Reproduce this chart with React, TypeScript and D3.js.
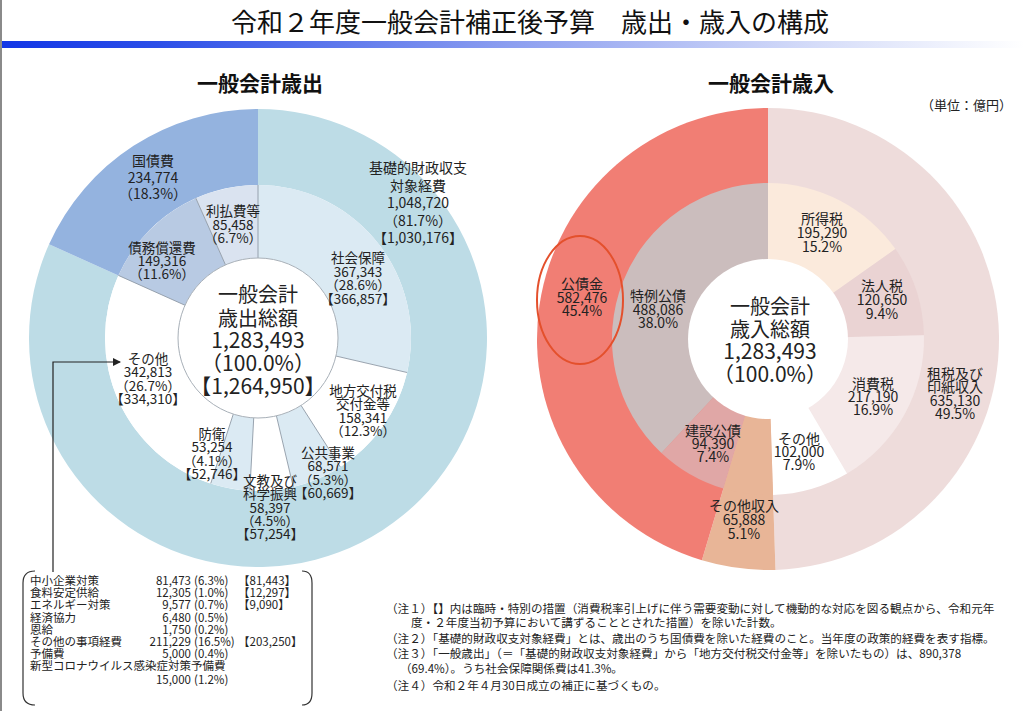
import React from "react";
import * as d3 from "d3";

// ---------- data ----------
const TOTAL = 1283493;

const expOuterNames = ["基礎的財政収支対象経費", "国債費"];
const expOuterValues = [1048720, 234774];
const expOuterPct = [81.7, 18.3];
const expOuterTemp = ["1,030,176", ""];

const expInnerNames = ["社会保障", "地方交付税交付金等", "公共事業", "文教及び科学振興", "防衛", "その他", "債務償還費", "利払費等"];
const expInnerValues = [367343, 158341, 68571, 58397, 53254, 342813, 149316, 85458];
const expInnerPct = [28.6, 12.3, 5.3, 4.5, 4.1, 26.7, 11.6, 6.7];
const expInnerTemp = ["366,857", "", "60,669", "57,254", "52,746", "334,310", "", ""];

const revOuterNames = ["租税及び印紙収入", "その他収入", "公債金"];
const revOuterValues = [635130, 65888, 582476];
const revOuterPct = [49.5, 5.1, 45.4];

const revInnerNames = ["所得税", "法人税", "消費税", "その他", "その他収入", "建設公債", "特例公債"];
const revInnerValues = [195290, 120650, 217190, 102000, 65888, 94390, 488086];
const revInnerPct = [15.2, 9.4, 16.9, 7.9, 5.1, 7.4, 38.0];

const otherNames = ["中小企業対策", "食料安定供給", "エネルギー対策", "経済協力", "恩給", "その他の事項経費", "予備費", "新型コロナウイルス感染症対策予備費"];
const otherValues = [81473, 12305, 9577, 6480, 1750, 211229, 5000, 15000];
const otherPct = [6.3, 1.0, 0.7, 0.5, 0.2, 16.5, 0.4, 1.2];
const otherTemp = ["81,443", "12,297", "9,090", "", "", "203,250", "", ""];

const notes = [
  "（注１）【】内は臨時・特別の措置（消費税率引上げに伴う需要変動に対して機動的な対応を図る観点から、令和元年",
  "度・２年度当初予算において講ずることとされた措置）を除いた計数。",
  "（注２）「基礎的財政収支対象経費」とは、歳出のうち国債費を除いた経費のこと。当年度の政策的経費を表す指標。",
  "（注３）「一般歳出」（＝「基礎的財政収支対象経費」から「地方交付税交付金等」を除いたもの）は、890,378",
  "（69.4%）。うち社会保障関係費は41.3%。",
  "（注４）令和２年４月30日成立の補正に基づくもの。",
];

// ---------- styles / layout ----------
const FONT = "'Noto Sans CJK JP', 'Noto Sans', sans-serif";
const fmt = d3.format(",");

const expOuterColors = ["#bddce6", "#94b3df"];
const expInnerColors = ["#dbeaf3", "#ffffff", "#dbeaf3", "#ffffff", "#dbeaf3", "#ffffff", "#b8cae3", "#dae3f0"];
const revOuterColors = ["#eedcdb", "#e8b597", "#f17e74"];
const revInnerColors = ["#fbeadc", "#ead3d3", "#f5e9e9", "#ffffff", "#e8b597", "#e0a7a6", "#cbbdbd"];

const L = { cx: 258, cy: 338, r0: 80, r1: 153, r2: 229 };
const R = { cx: 768, cy: 339, r0: 80, r1: 156, r2: 231 };

// label layout: [x, firstLineY, lineGap, fontSize]
const expOuterPos = [[418, 167, 17.5, 14], [153, 160, 16.5, 14]];
const expInnerPos = [
  [358, 257, 13.7, 13.5],
  [363, 390, 13.4, 13.5],
  [328, 452, 13.4, 13.5],
  [270, 480, 13.3, 13.5],
  [212, 433, 13.4, 13.5],
  [148, 358, 13.4, 13.5],
  [162, 247, 13, 13.5],
  [233, 210, 13.5, 13.5],
];
const expLabelSplit = [["社会保障"], ["地方交付税", "交付金等"], ["公共事業"], ["文教及び", "科学振興"], ["防衛"], ["その他"], ["債務償還費"], ["利払費等"]];
const expOuterSplit = [["基礎的財政収支", "対象経費"], ["国債費"]];

const revOuterPos = [[955, 373, 13.4, 14], null, [582, 283, 13.5, 14]];
const revOuterSplit = [["租税及び", "印紙収入"], [], ["公債金"]];
const revInnerPos = [
  [822, 218, 14, 14],
  [882, 285, 14, 14],
  [873, 383, 13, 14],
  [799, 438, 13, 14],
  [744, 505, 14, 14],
  [713, 430, 13, 14],
  [658, 295, 13.5, 14],
];

function Lines({ x, y, gap, size, lines, weight = 400 }: any) {
  return (
    <text
      x={x}
      y={y}
      fontSize={size}
      fontFamily={FONT}
      fontWeight={weight}
      textAnchor="middle"
      fill="#222"
    >
      {lines.map((l: string, i: number) => (
        <tspan key={i} x={x} y={y + i * gap} dominantBaseline="central">
          {l}
        </tspan>
      ))}
    </text>
  );
}

export default function App() {
  const pie = d3.pie<number>().sort(null).value((d) => d).startAngle(0).endAngle(2 * Math.PI);

  const eo = pie(expOuterValues);
  const ei = pie(expInnerValues);
  const ro = pie(revOuterValues);
  const ri = pie(revInnerValues);

  const arcL = d3.arc<any>().innerRadius(L.r1).outerRadius(L.r2);
  const arcLi = d3.arc<any>().innerRadius(L.r0).outerRadius(L.r1);
  const arcRo = d3.arc<any>().innerRadius(0).outerRadius(R.r2);
  const arcRi = d3.arc<any>().innerRadius(0).outerRadius(R.r1);

  return (
    <svg
      width={1024}
      height={711}
      style={{ position: "absolute", left: 0, top: 0, background: "#fff" }}
    >
      <defs>
        <linearGradient id="bar" x1="0" x2="1" y1="0" y2="0">
          <stop offset="0" stopColor="#1236e6" />
          <stop offset="0.15" stopColor="#2c4fe8" />
          <stop offset="0.5" stopColor="#8d9ff0" />
          <stop offset="0.8" stopColor="#d6ddf9" />
          <stop offset="1" stopColor="#ffffff" />
        </linearGradient>
        <marker id="arr" markerWidth="8" markerHeight="8" refX="7" refY="4" orient="auto" markerUnits="userSpaceOnUse">
          <path d="M0,0 L8,4 L0,8 z" fill="#222" />
        </marker>
      </defs>
      <rect x={0} y={0} width={1024} height={711} fill="#fff" />
      <line x1={1} y1={0} x2={1} y2={711} stroke="#8a8a8a" strokeWidth={2} />

      {/* title */}
      <text x={530} y={20} fontSize={26} fontFamily={FONT} textAnchor="middle" dominantBaseline="central" fill="#111">
        令和２年度一般会計補正後予算　歳出・歳入の構成
      </text>
      <rect x={2} y={41} width={1022} height={7} fill="url(#bar)" />

      <text x={260} y={82} fontSize={21} fontWeight={700} fontFamily={FONT} textAnchor="middle" dominantBaseline="central" fill="#111">
        一般会計歳出
      </text>
      <text x={771} y={82} fontSize={21} fontWeight={700} fontFamily={FONT} textAnchor="middle" dominantBaseline="central" fill="#111">
        一般会計歳入
      </text>
      <text x={1012} y={104} fontSize={13} fontFamily={FONT} textAnchor="end" dominantBaseline="central" fill="#222">
        （単位：億円）
      </text>

      {/* left donut */}
      <g transform={`translate(${L.cx},${L.cy})`}>
        {eo.map((a, i) => (
          <path key={i} d={arcL(a) as string} fill={expOuterColors[i]} />
        ))}
        {ei.map((a, i) => (
          <path key={i} d={arcLi(a) as string} fill={expInnerColors[i]} />
        ))}
        {ei.map((a, i) => (
          <line
            key={i}
            x1={Math.sin(a.startAngle) * L.r0}
            y1={-Math.cos(a.startAngle) * L.r0}
            x2={Math.sin(a.startAngle) * L.r1}
            y2={-Math.cos(a.startAngle) * L.r1}
            stroke="#8f9aa6"
            strokeWidth={0.9}
          />
        ))}
        <circle r={L.r0} fill="#fff" stroke="#a8b0b8" strokeWidth={1} />
      </g>

      {eo.map((a, i) => {
        const p = expOuterPos[i];
        const lines = [...expOuterSplit[i], fmt(expOuterValues[i]), `（${expOuterPct[i].toFixed(1)}%）`];
        if (expOuterTemp[i]) lines.push(`【${expOuterTemp[i]}】`);
        return <Lines key={i} x={p[0]} y={p[1]} gap={p[2]} size={p[3]} lines={lines} />;
      })}
      {ei.map((a, i) => {
        const p = expInnerPos[i];
        const lines = [...expLabelSplit[i], fmt(expInnerValues[i]), `（${expInnerPct[i].toFixed(1)}%）`];
        if (expInnerTemp[i]) lines.push(`【${expInnerTemp[i]}】`);
        return <Lines key={i} x={p[0]} y={p[1]} gap={p[2]} size={p[3]} lines={lines} />;
      })}
      <Lines x={L.cx} y={293} gap={0} size={20} lines={["一般会計"]} />
      <Lines x={L.cx} y={317} gap={0} size={20} lines={["歳出総額"]} />
      <Lines x={L.cx} y={339} gap={23} size={21} lines={[fmt(TOTAL), "（100.0%）", "【1,264,950】"]} />

      {/* right donut */}
      <g transform={`translate(${R.cx},${R.cy})`}>
        {ro.map((a, i) => (
          <path key={i} d={arcRo(a) as string} fill={revOuterColors[i]} />
        ))}
        {ri.map((a, i) => (
          <path key={i} d={arcRi(a) as string} fill={revInnerColors[i]} />
        ))}
        <circle r={R.r0} fill="#fff" />
      </g>
      {ro.map((a, i) => {
        const p = revOuterPos[i];
        if (!p) return null;
        const lines = [...revOuterSplit[i], fmt(revOuterValues[i]), `${revOuterPct[i].toFixed(1)}%`];
        return <Lines key={i} x={p[0]} y={p[1]} gap={p[2]} size={p[3]} lines={lines} />;
      })}
      {ri.map((a, i) => {
        const p = revInnerPos[i];
        const lines = [revInnerNames[i], fmt(revInnerValues[i]), `${revInnerPct[i].toFixed(1)}%`];
        return <Lines key={i} x={p[0]} y={p[1]} gap={p[2]} size={p[3]} lines={lines} />;
      })}
      <Lines x={770} y={305} gap={0} size={20} lines={["一般会計"]} />
      <Lines x={770} y={328} gap={0} size={20} lines={["歳入総額"]} />
      <Lines x={770} y={350} gap={23} size={21} lines={[fmt(TOTAL), "（100.0%）"]} />
      <ellipse cx={580} cy={300} rx={43} ry={64} fill="none" stroke="#e4502c" strokeWidth={2} />

      {/* arrow to breakdown box */}
      <polyline points="53,572 53,362 120,362" fill="none" stroke="#222" strokeWidth={1.2} markerEnd="url(#arr)" />

      {/* breakdown box */}
      <path d="M35,571 Q23,571 23,583 L23,693 Q23,705 35,705" fill="none" stroke="#333" strokeWidth={1.2} />
      <path d="M302,571 Q312,571 312,583 L312,693 Q312,705 302,705" fill="none" stroke="#333" strokeWidth={1.2} />
      {otherNames.map((n, i) => {
        const y0 = 580 + i * 12.2;
        const vy = i === otherNames.length - 1 ? y0 + 14 : y0;
        return (
          <g key={i} fontFamily={FONT} fontSize={11.5} fill="#222">
            <text x={30} y={y0} dominantBaseline="central">{n}</text>
            <text x={191} y={vy} textAnchor="end" dominantBaseline="central">{fmt(otherValues[i])}</text>
            <text x={194} y={vy} dominantBaseline="central">({otherPct[i].toFixed(1)}%)</text>
            {otherTemp[i] && (
              <text x={238} y={vy} dominantBaseline="central">【{otherTemp[i]}】</text>
            )}
          </g>
        );
      })}

      {/* notes */}
      {notes.map((t, i) => {
        const xs = [386, 411, 386, 386, 400, 386];
        const ys = [608, 622, 638, 653, 668, 685];
        return (
          <text key={i} x={xs[i]} y={ys[i]} fontSize={11.6} fontFamily={FONT} dominantBaseline="central" fill="#222">
            {t}
          </text>
        );
      })}
    </svg>
  );
}
